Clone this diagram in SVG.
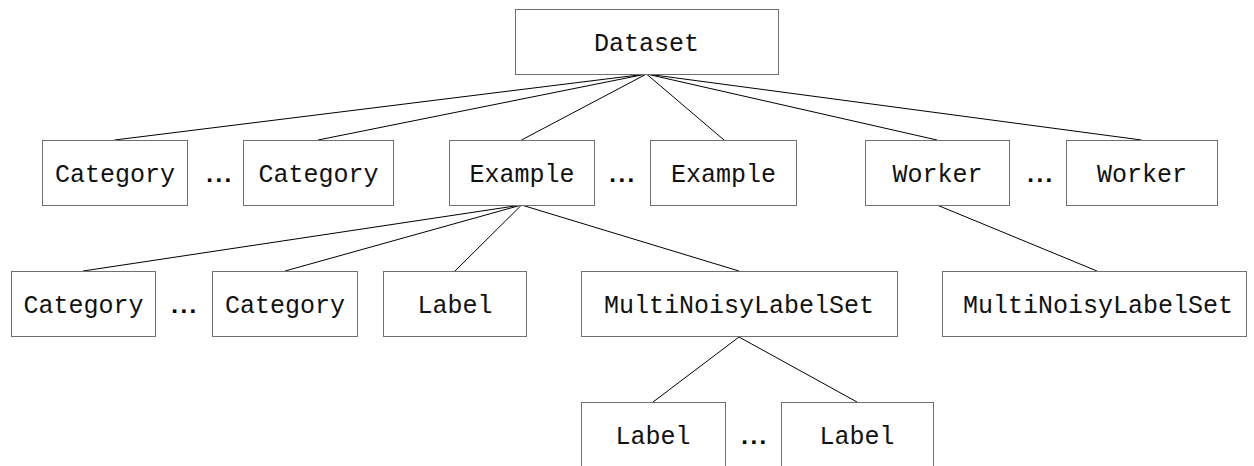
<svg xmlns="http://www.w3.org/2000/svg" width="1254" height="466" viewBox="0 0 1254 466">
<style>
.box rect{fill:#fff;stroke:#707070;stroke-width:1}
.box text{font-family:"Liberation Mono","Courier New",monospace;font-size:25px;fill:#111;text-anchor:middle}
.dots{font-family:"Liberation Sans",Arial,sans-serif;font-size:24px;font-weight:bold;fill:#000;text-anchor:middle;letter-spacing:2.5px}
#connectors line{stroke:#000;stroke-width:1}
</style>
<rect width="1254" height="466" fill="#fff"/>
<g id="connectors">
<line x1="646.5" y1="74" x2="114.5" y2="140"/>
<line x1="646.5" y1="74" x2="318" y2="140"/>
<line x1="646.5" y1="74" x2="521.5" y2="140"/>
<line x1="646.5" y1="74" x2="724" y2="140"/>
<line x1="646.5" y1="74" x2="937" y2="140"/>
<line x1="646.5" y1="74" x2="1141.5" y2="140"/>
<line x1="521.5" y1="205" x2="83" y2="271"/>
<line x1="521.5" y1="205" x2="285" y2="271"/>
<line x1="521.5" y1="205" x2="455" y2="271"/>
<line x1="521.5" y1="205" x2="739" y2="271"/>
<line x1="937" y1="205" x2="1097" y2="271"/>
<line x1="739" y1="337" x2="653" y2="402"/>
<line x1="739" y1="337" x2="857" y2="402"/>
</g>
<g id="dataset" class="box"><rect x="515.5" y="9.5" width="263" height="65"/><text x="646.5" y="51">Dataset</text></g>
<g id="category-a" class="box"><rect x="42.5" y="140.5" width="145" height="65"/><text x="115" y="182">Category</text></g>
<g id="category-b" class="box"><rect x="243.5" y="140.5" width="150" height="65"/><text x="318.5" y="182">Category</text></g>
<g id="example-a" class="box"><rect x="449.5" y="140.5" width="145" height="65"/><text x="522" y="182">Example</text></g>
<g id="example-b" class="box"><rect x="650.5" y="140.5" width="146" height="65"/><text x="723.5" y="182">Example</text></g>
<g id="worker-a" class="box"><rect x="865.5" y="140.5" width="144" height="65"/><text x="937.5" y="182">Worker</text></g>
<g id="worker-b" class="box"><rect x="1066.5" y="140.5" width="151" height="65"/><text x="1142" y="182">Worker</text></g>
<g id="ex-category-a" class="box"><rect x="11.5" y="271.5" width="144" height="65"/><text x="83.5" y="313">Category</text></g>
<g id="ex-category-b" class="box"><rect x="212.5" y="271.5" width="145" height="65"/><text x="285" y="313">Category</text></g>
<g id="ex-label" class="box"><rect x="383.5" y="271.5" width="143" height="65"/><text x="455" y="313">Label</text></g>
<g id="ex-mnls" class="box"><rect x="581.5" y="271.5" width="316" height="65"/><text x="739" y="313">MultiNoisyLabelSet</text></g>
<g id="worker-mnls" class="box"><rect x="942.5" y="271.5" width="304" height="65"/><text x="1098" y="313">MultiNoisyLabelSet</text></g>
<g id="label-a" class="box"><rect x="581.5" y="402.5" width="144" height="70"/><text x="653" y="444">Label</text></g>
<g id="label-b" class="box"><rect x="781.5" y="402.5" width="152" height="70"/><text x="857" y="444">Label</text></g>
<g id="ellipses">
<text class="dots" x="220" y="182">...</text>
<text class="dots" x="623" y="182">...</text>
<text class="dots" x="1041" y="182">...</text>
<text class="dots" x="185" y="313">...</text>
<text class="dots" x="755" y="444">...</text>
</g>
</svg>
